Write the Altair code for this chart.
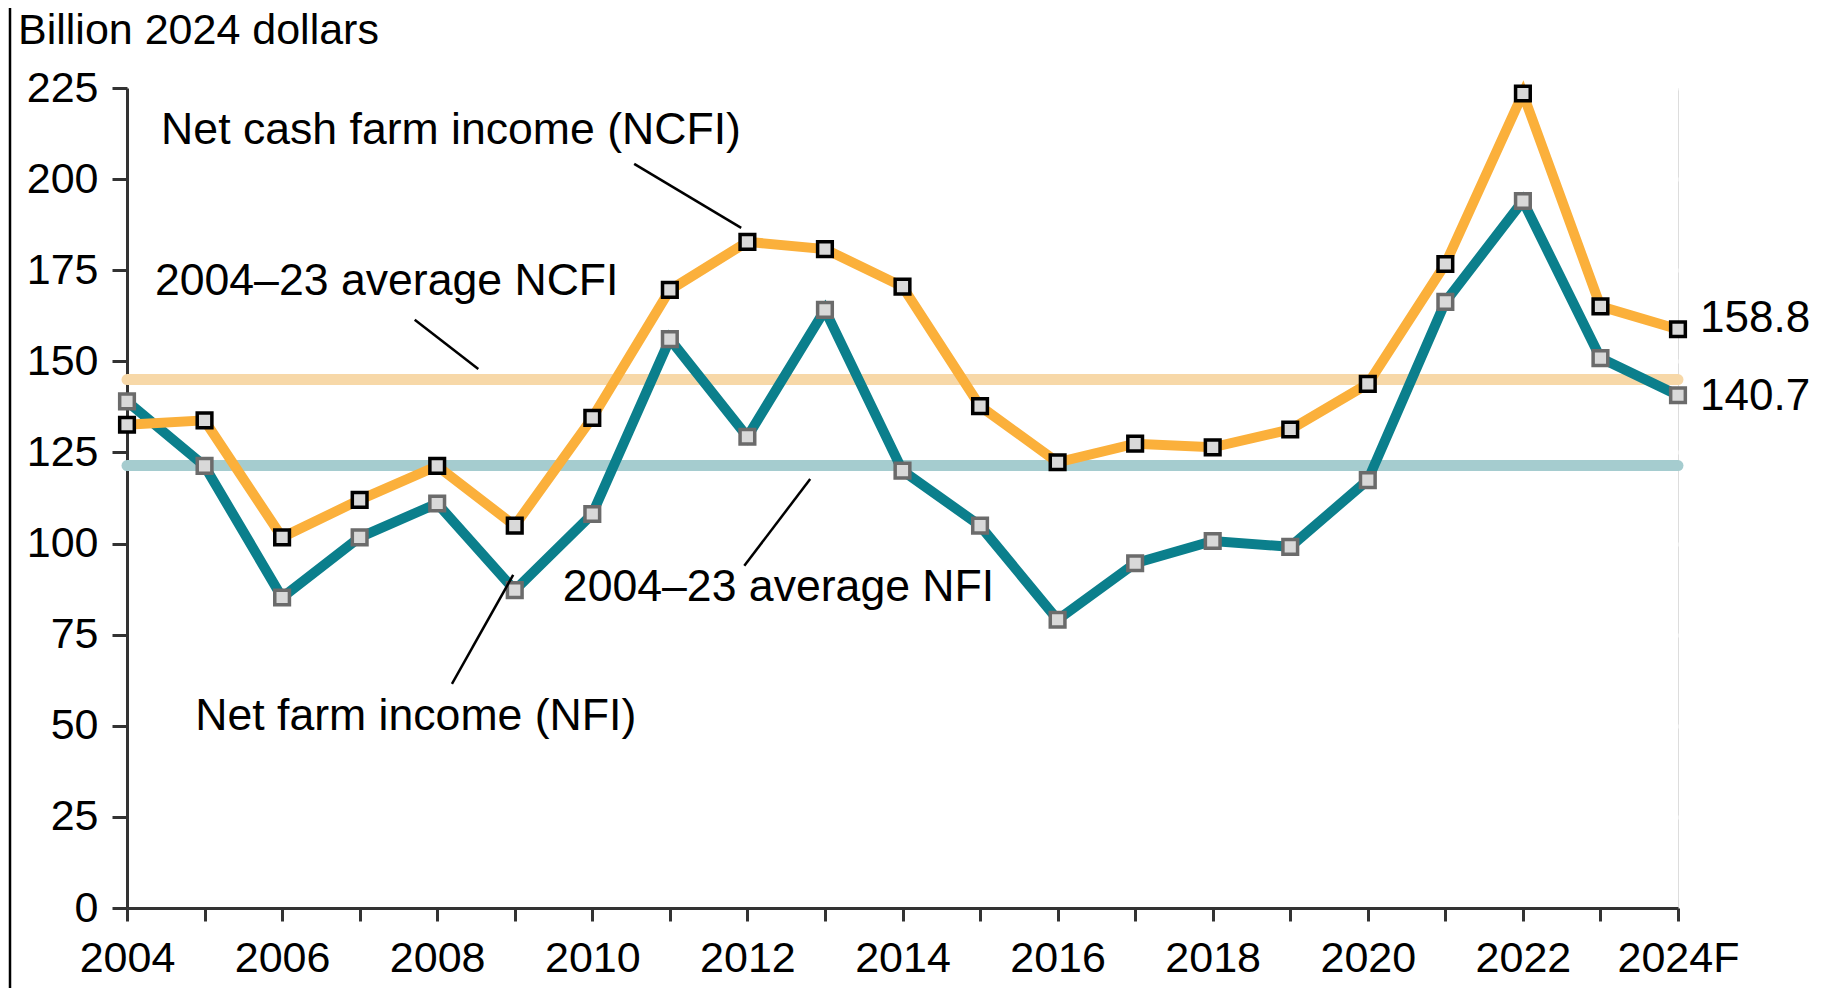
import altair as alt
import pandas as pd

# ---- data ----
years = list(range(2004, 2025))
ncfi = [132.6, 133.8, 101.7, 112.0, 121.3, 104.9, 134.5, 169.6, 182.8, 180.8,
        170.5, 137.7, 122.3, 127.4, 126.4, 131.3, 143.8, 176.7, 223.5, 165.1, 158.8]
nfi = [139.0, 121.3, 85.2, 101.7, 111.0, 87.2, 108.1, 156.1, 129.3, 164.1,
       120.0, 104.9, 79.1, 94.6, 100.7, 99.1, 117.4, 166.3, 194.0, 150.9, 140.7]
avg_names = ["NCFI average", "NFI average"]
avg_values = [145.0, 121.4]
x_label_years = [2004, 2006, 2008, 2010, 2012, 2014, 2016, 2018, 2020, 2022, 2024]
x_label_texts = ["2004", "2006", "2008", "2010", "2012", "2014", "2016", "2018", "2020", "2022", "2024F"]
y_ticks = [0, 25, 50, 75, 100, 125, 150, 175, 200, 225]
end_labels = ["158.8", "140.7"]

# ---- styling ----
FONT = "Liberation Sans"
ORANGE = "#fbb03b"
TEAL = "#0b7f8c"
ORANGE_AVG = "#f7d8a8"
TEAL_AVG = "#a5cccf"

W, H = 1551, 820

df = pd.DataFrame({
    "year": years * 2,
    "value": ncfi + nfi,
    "series": ["NCFI"] * len(years) + ["NFI"] * len(years),
})
avg_df = pd.DataFrame({"name": avg_names, "value": avg_values,
                       "x0": [2004] * 2, "x1": [2024] * 2,
                       "color": [ORANGE_AVG, TEAL_AVG]})

label_expr = "''"
for yv, lt in reversed(list(zip(x_label_years, x_label_texts))):
    label_expr = f"datum.value == {yv} ? '{lt}' : ({label_expr})"

x_scale = alt.Scale(domain=[2004, 2024], nice=False, zero=False)
y_scale = alt.Scale(domain=[0, 225], nice=False)

x_axis = alt.Axis(values=years, labelExpr=label_expr, title=None, grid=False,
                  tickSize=13, tickWidth=3, tickColor="#333333",
                  domainColor="#333333", domainWidth=3,
                  labelFontSize=43, labelFont=FONT, labelColor="black",
                  labelPadding=16, labelOverlap=False, labelFlush=False)
y_axis = alt.Axis(values=y_ticks, title=None, grid=True, gridColor="white",
                  gridWidth=4, tickSize=15, tickWidth=3, tickColor="#333333",
                  domainColor="#333333", domainWidth=3,
                  labelFontSize=43, labelFont=FONT, labelColor="black",
                  labelPadding=14)

base = alt.Chart(df)

avg_rules = alt.Chart(avg_df).mark_rule(strokeWidth=11, strokeCap="round").encode(
    x=alt.X("x0:Q", scale=x_scale, axis=x_axis),
    x2="x1:Q",
    y=alt.Y("value:Q", scale=y_scale, axis=y_axis),
    color=alt.Color("color:N", scale=None),
)

line_nfi = base.transform_filter("datum.series == 'NFI'").mark_line(
    color=TEAL, strokeWidth=10, strokeJoin="miter").encode(
    x=alt.X("year:Q", scale=x_scale), y=alt.Y("value:Q", scale=y_scale))
line_ncfi = base.transform_filter("datum.series == 'NCFI'").mark_line(
    color=ORANGE, strokeWidth=10, strokeJoin="miter").encode(
    x=alt.X("year:Q", scale=x_scale), y=alt.Y("value:Q", scale=y_scale))

pts_nfi = base.transform_filter("datum.series == 'NFI'").mark_square(
    size=215, fill="#d9d9d9", stroke="#6b6b6b", strokeWidth=3.5, opacity=1).encode(
    x=alt.X("year:Q", scale=x_scale), y=alt.Y("value:Q", scale=y_scale))
pts_ncfi = base.transform_filter("datum.series == 'NCFI'").mark_square(
    size=215, fill="#d9d9d9", stroke="black", strokeWidth=3.5, opacity=1).encode(
    x=alt.X("year:Q", scale=x_scale), y=alt.Y("value:Q", scale=y_scale))

# annotation texts (positions in data units)
ann_df = pd.DataFrame({
    "text": ["Net cash farm income (NCFI)", "2004\u201323 average NCFI",
             "2004\u201323 average NFI", "Net farm income (NFI)"],
    "x": [2004.44, 2004.36, 2009.62, 2004.88],
    "y": [213.2, 171.8, 87.8, 52.4],
})
ann_text = alt.Chart(ann_df).mark_text(
    align="left", baseline="middle", font=FONT, fontSize=44.6, color="black").encode(
    x=alt.X("x:Q", scale=x_scale), y=alt.Y("y:Q", scale=y_scale), text="text:N")

lead_df = pd.DataFrame({
    "x": [2010.54, 2007.71, 2012.81, 2008.98],
    "y": [204.2, 161.4, 117.7, 91.4],
    "x2": [2011.92, 2008.53, 2011.96, 2008.19],
    "y2": [186.6, 147.9, 93.9, 61.5],
})
leaders = alt.Chart(lead_df).mark_rule(color="black", strokeWidth=2.5).encode(
    x=alt.X("x:Q", scale=x_scale), y=alt.Y("y:Q", scale=y_scale),
    x2="x2:Q", y2="y2:Q")

end_df = pd.DataFrame({"text": end_labels, "x": [2024, 2024], "y": [161.6, 140.2]})
end_text = alt.Chart(end_df).mark_text(
    align="left", baseline="middle", dx=22, font=FONT, fontSize=44, color="black").encode(
    x=alt.X("x:Q", scale=x_scale), y=alt.Y("y:Q", scale=y_scale), text="text:N")

title_text = alt.Chart(pd.DataFrame({"t": ["Billion 2024 dollars"]})).mark_text(
    align="left", baseline="middle", font=FONT, fontSize=43, color="black").encode(
    x=alt.value(-109), y=alt.value(-57), text="t:N")

border = alt.Chart(pd.DataFrame({"a": [0]})).mark_rule(color="black", strokeWidth=2.5).encode(
    x=alt.value(-117), y=alt.value(-90), y2=alt.value(920))

chart = alt.layer(
    avg_rules, line_nfi, line_ncfi, pts_nfi, pts_ncfi,
    leaders, ann_text, end_text, title_text, border,
).properties(
    width=W, height=H,
    autosize=alt.AutoSizeParams(type="none"),
    padding={"left": 119, "top": 80, "right": 140, "bottom": 80},
).configure_view(fill="#f2f2f2", strokeWidth=0).configure(background="white")

chart.save("out.html", embed_options={"renderer": "svg", "actions": False})
